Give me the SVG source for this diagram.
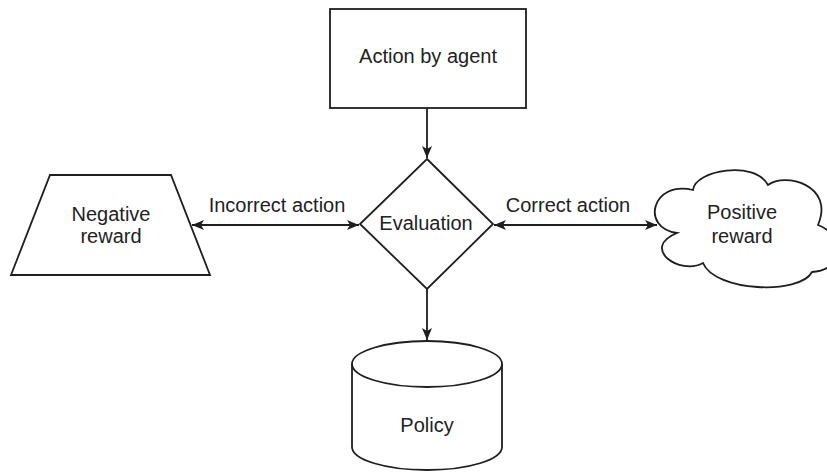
<svg xmlns="http://www.w3.org/2000/svg" width="827" height="473" viewBox="0 0 827 473">
  <style>
    .shape { fill: #ffffff; stroke: #1e1e1e; stroke-width: 1.8; }
    .edge { fill: none; stroke: #1e1e1e; stroke-width: 1.8; }
    .label { font-family: "Liberation Sans", Arial, sans-serif; font-size: 20px; fill: #222222; text-anchor: middle; }
  </style>
  <defs>
    <marker id="arrow" markerUnits="userSpaceOnUse" markerWidth="13" markerHeight="11" refX="12" refY="5" orient="auto-start-reverse">
      <path d="M0,0 L12,5 L0,10 L3,5 Z" fill="#1e1e1e"/>
    </marker>
  </defs>
  <rect width="827" height="473" fill="#ffffff"/>

  <g id="edges">
    <line class="edge" x1="427" y1="108" x2="427" y2="158" marker-end="url(#arrow)"/>
    <line class="edge" x1="427" y1="289" x2="427" y2="340" marker-end="url(#arrow)"/>
    <line class="edge" x1="192" y1="225" x2="359" y2="225" marker-start="url(#arrow)" marker-end="url(#arrow)"/>
    <line class="edge" x1="494" y1="225" x2="657" y2="225" marker-start="url(#arrow)" marker-end="url(#arrow)"/>
    <text class="label" x="277" y="212">Incorrect action</text>
    <text class="label" x="568" y="212">Correct action</text>
  </g>

  <g id="action">
    <rect class="shape" x="330" y="9" width="196" height="99"/>
    <text class="label" x="428" y="63">Action by agent</text>
  </g>

  <g id="evaluation">
    <polygon class="shape" points="427,159 493,224 427,289 360,224"/>
    <text class="label" x="426" y="230">Evaluation</text>
  </g>

  <g id="negative">
    <polygon class="shape" points="50,175 171,175 210,275 11,275"/>
    <text class="label" x="111" y="221">Negative</text>
    <text class="label" x="111" y="243">reward</text>
  </g>

  <g id="positive">
    <!-- cloud runs past the right edge of the canvas -->
    <path class="shape" d="M693,190 C695,170 755,160 768,185 C785,172 835,185 818,225 C845,235 845,270 812,272 C800,295 715,292 703,263 C680,276 640,248 677,233 C640,228 652,180 693,190 Z"/>
    <text class="label" x="742" y="219">Positive</text>
    <text class="label" x="742" y="243">reward</text>
  </g>

  <g id="policy">
    <path class="shape" d="M352,364 A75,23 0 0 1 502,364 L502,447 A75,23 0 0 1 352,447 Z"/>
    <path class="edge" d="M352,364 A75,23 0 0 0 502,364"/>
    <text class="label" x="427" y="432">Policy</text>
  </g>
</svg>
